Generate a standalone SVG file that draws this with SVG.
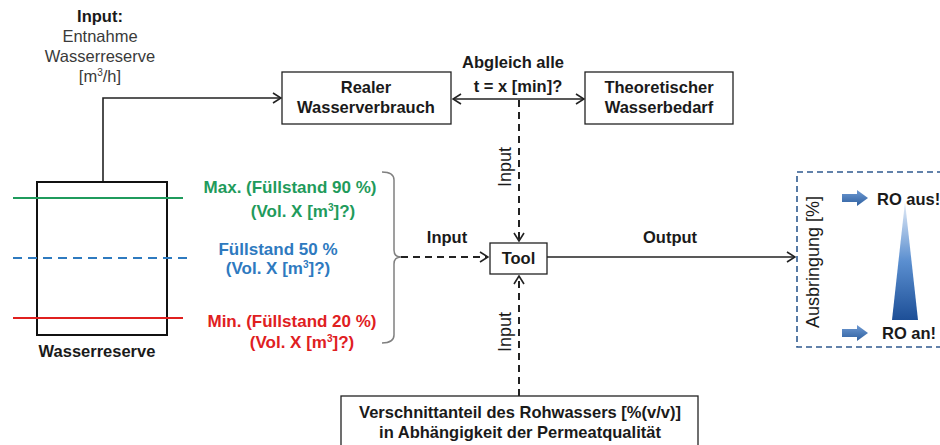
<svg xmlns="http://www.w3.org/2000/svg" width="940" height="445" viewBox="0 0 940 445">
<style>
text{font-family:"Liberation Sans",Arial,sans-serif;fill:#1a1a1a}
.b{font-weight:bold;font-size:16.5px}
.r{font-size:16.5px;fill:#3a3a3a}
.lv{font-weight:bold;font-size:17px}
.box{fill:#fff;stroke:#222;stroke-width:1.3}
.ln{fill:none;stroke:#222;stroke-width:1.6}
.dash{fill:none;stroke:#222;stroke-width:2;stroke-dasharray:7,5}
.g{fill:#1f9b5c}.bl{fill:#2e7abf}.rd{fill:#e0201f}
</style>
<defs>
<marker id="ah" viewBox="0 0 10 12" refX="9" refY="6" markerWidth="10" markerHeight="12" markerUnits="userSpaceOnUse" orient="auto-start-reverse">
<path d="M1,1 L9,6 L1,11" fill="none" stroke="#222" stroke-width="1.6"/>
</marker>
<linearGradient id="tri" x1="0" y1="0" x2="0" y2="1">
<stop offset="0" stop-color="#e4ecf7"/>
<stop offset="0.5" stop-color="#5b8fd0"/>
<stop offset="1" stop-color="#1d4f97"/>
</linearGradient>
<linearGradient id="blk" x1="0" y1="0" x2="0" y2="1">
<stop offset="0" stop-color="#6f9ad3"/>
<stop offset="1" stop-color="#2d5f9f"/>
</linearGradient>
</defs>

<g id="connectors">
<polyline class="ln" points="103,182 103,98 281,98" marker-end="url(#ah)" stroke="#333"/>
<line class="ln" x1="453" y1="99" x2="584" y2="99" marker-start="url(#ah)" marker-end="url(#ah)"/>
<line class="dash" x1="519" y1="100" x2="519" y2="241" marker-end="url(#ah)"/>
<line class="dash" x1="401" y1="257" x2="488" y2="257" marker-end="url(#ah)"/>
<line class="ln" x1="547" y1="257" x2="795" y2="257" stroke-width="2" marker-end="url(#ah)"/>
<line class="dash" x1="519" y1="396" x2="519" y2="276" marker-end="url(#ah)"/>
<path d="M382,172 Q394,172 394,180 L394,250 Q394,257 401,257 Q394,257 394,264 L394,335 Q394,343 382,343" fill="none" stroke="#808080" stroke-width="1.5"/>
<text class="b" x="447" y="243" text-anchor="middle">Input</text>
<text class="b" x="670" y="243" text-anchor="middle">Output</text>
<text x="0" y="0" font-size="18" text-anchor="middle" transform="translate(511,167) rotate(-90)">Input</text>
<text x="0" y="0" font-size="18" text-anchor="middle" transform="translate(511,332) rotate(-90)">Input</text>
<text class="b" x="513" y="68" text-anchor="middle">Abgleich alle</text>
<text class="b" x="518" y="92" text-anchor="middle">t = x [min]?</text>
</g>

<g id="input-label">
<text class="b" x="100" y="22" text-anchor="middle">Input:</text>
<text class="r" x="100" y="42" text-anchor="middle">Entnahme</text>
<text class="r" x="100" y="62" text-anchor="middle">Wasserreserve</text>
<text class="r" x="100" y="82" text-anchor="middle">[m<tspan font-size="10" dy="-6">3</tspan><tspan dy="6">/h]</tspan></text>
</g>

<g id="realer">
<rect class="box" x="282" y="72" width="169" height="52"/>
<text class="b" x="366" y="93" text-anchor="middle">Realer</text>
<text class="b" x="366" y="113" text-anchor="middle">Wasserverbrauch</text>
</g>

<g id="theoretischer">
<rect class="box" x="585" y="72" width="148" height="52"/>
<text class="b" x="659" y="93" text-anchor="middle">Theoretischer</text>
<text class="b" x="659" y="113" text-anchor="middle">Wasserbedarf</text>
</g>

<g id="wasserreserve">
<rect x="37" y="182" width="130" height="153" fill="#fff" stroke="#111" stroke-width="2"/>
<line x1="13" y1="198" x2="183" y2="198" stroke="#1f9b5c" stroke-width="2"/>
<line x1="13" y1="258" x2="187" y2="258" stroke="#2e7abf" stroke-width="2" stroke-dasharray="9,6"/>
<line x1="13" y1="318" x2="183" y2="318" stroke="#e0201f" stroke-width="2"/>
<text class="b" x="97" y="357" text-anchor="middle">Wasserreserve</text>
</g>

<g id="levels">
<text class="lv g" x="290" y="193" text-anchor="middle">Max. (Füllstand 90 %)</text>
<text class="lv g" x="303" y="217" text-anchor="middle">(Vol. X [m<tspan font-size="10" dy="-6">3</tspan><tspan dy="6">]?)</tspan></text>
<text class="lv bl" x="278" y="255" text-anchor="middle">Füllstand 50 %</text>
<text class="lv bl" x="278" y="274" text-anchor="middle">(Vol. X [m<tspan font-size="10" dy="-6">3</tspan><tspan dy="6">]?)</tspan></text>
<text class="lv rd" x="292" y="327" text-anchor="middle">Min. (Füllstand 20 %)</text>
<text class="lv rd" x="302" y="348" text-anchor="middle">(Vol. X [m<tspan font-size="10" dy="-6">3</tspan><tspan dy="6">]?)</tspan></text>
</g>

<g id="tool">
<rect class="box" x="490" y="243" width="57" height="31"/>
<text class="b" x="518.5" y="264" text-anchor="middle">Tool</text>
</g>

<g id="verschnitt">
<rect class="box" x="341" y="396" width="357" height="60"/>
<text class="b" x="520" y="418" text-anchor="middle">Verschnittanteil des Rohwassers [%(v/v)]</text>
<text class="b" x="520" y="438" text-anchor="middle">in Abhängigkeit der Permeatqualität</text>
</g>

<g id="ausbringung">
<rect x="797" y="172" width="160" height="175" fill="#fff" stroke="#2f5a8f" stroke-width="1.6" stroke-dasharray="6,4"/>
<text x="0" y="0" font-size="18" text-anchor="middle" transform="translate(819,262) rotate(-90)">Ausbringung [%]</text>
<path d="M842,194 L857,194 L857,190 L868,198 L857,206 L857,202 L842,202 Z" fill="url(#blk)"/>
<path d="M842,329 L857,329 L857,325 L868,333 L857,341 L857,337 L842,337 Z" fill="url(#blk)"/>
<path d="M905,202 L918,320 L892,320 Z" fill="url(#tri)"/>
<text class="b" x="877" y="205">RO aus!</text>
<text class="b" x="882" y="339">RO an!</text>
</g>
</svg>
